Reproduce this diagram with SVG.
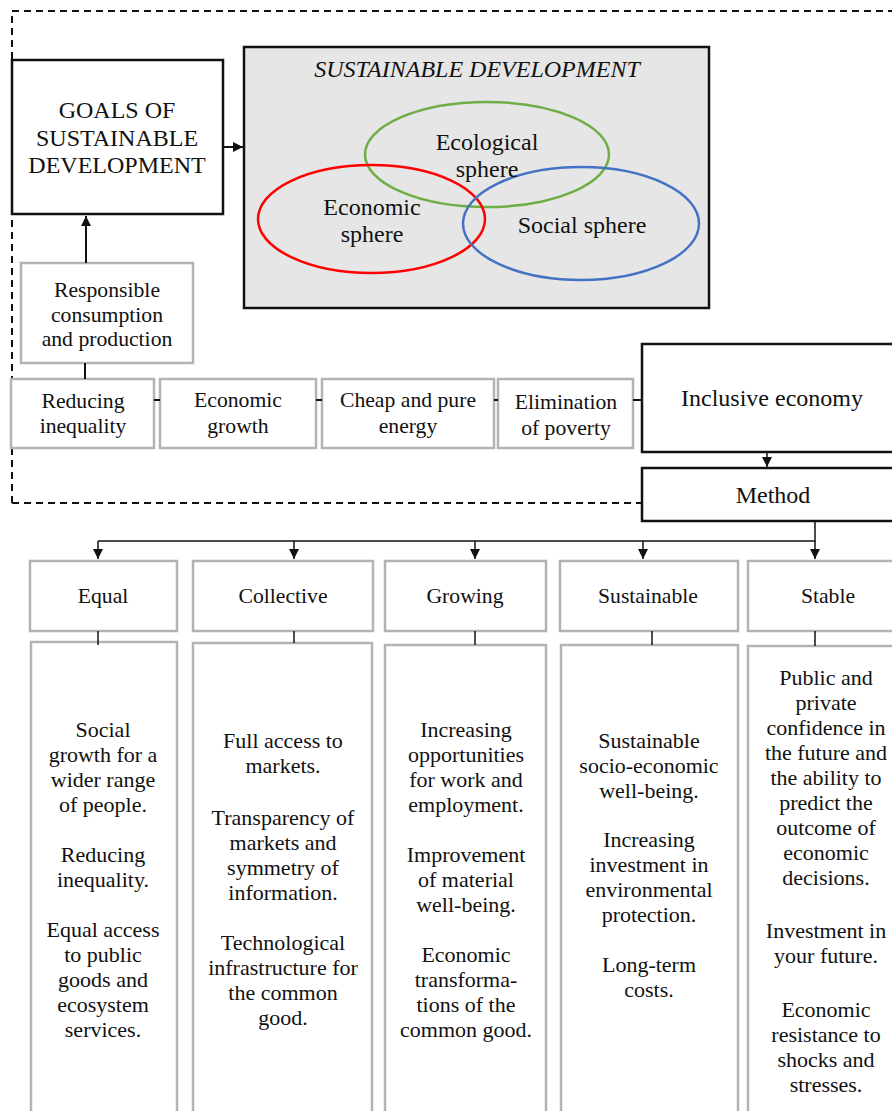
<svg xmlns="http://www.w3.org/2000/svg" width="892" height="1111" viewBox="0 0 892 1111">
<style>
text{font-family:'Liberation Serif','Times New Roman',serif;fill:#111;text-anchor:middle}
.t{font-size:22px}
.s{font-size:21.7px}
.L{font-size:24px}
.b{fill:#fff;stroke:#111;stroke-width:2.5}
.g{fill:#fff;stroke:#b3b3b3;stroke-width:2.5}
.l{stroke:#111;stroke-width:1.5;fill:none}
.lb{stroke:#111;stroke-width:2;fill:none}
</style>
<defs>
<marker id="ah" viewBox="0 0 10 10" refX="10" refY="5" markerWidth="10" markerHeight="10" markerUnits="userSpaceOnUse" orient="auto">
<path d="M0,0 L10,5 L0,10 z" fill="#111"/>
</marker>
</defs>
<g id="frame">
<path d="M12,503 L12,11 L892,11" fill="none" stroke="#111" stroke-width="2" stroke-dasharray="7,5"/>
<path d="M12,503 L641,503" fill="none" stroke="#111" stroke-width="2" stroke-dasharray="7,5"/>
</g>
<g id="goals">
<rect class="b" x="12" y="60" width="211" height="154"/>
<text class="L" x="117" y="118">GOALS OF</text>
<text class="L" x="117" y="146">SUSTAINABLE</text>
<text class="L" x="117" y="173">DEVELOPMENT</text>
</g>
<g id="sd">
<rect x="244" y="47" width="465" height="261" fill="#e6e6e6" stroke="#111" stroke-width="2.5"/>
<text class="L" x="477" y="77" style="font-style:italic">SUSTAINABLE DEVELOPMENT</text>
<ellipse cx="487" cy="154.5" rx="122" ry="52.5" fill="none" stroke="#70ad47" stroke-width="2.5"/>
<ellipse cx="371.5" cy="219" rx="113.5" ry="54" fill="none" stroke="#ff0000" stroke-width="2.5"/>
<ellipse cx="581" cy="223.5" rx="118" ry="56.5" fill="none" stroke="#4472c4" stroke-width="2.5"/>
<text class="L" x="487" y="150">Ecological</text>
<text class="L" x="487" y="177">sphere</text>
<text class="L" x="372" y="215">Economic</text>
<text class="L" x="372" y="242">sphere</text>
<text class="L" x="582" y="233">Social sphere</text>
</g>
<g id="responsible">
<rect class="g" x="21" y="263" width="172" height="100"/>
<text class="s" x="107" y="297">Responsible</text>
<text class="s" x="107" y="322">consumption</text>
<text class="s" x="107" y="346">and production</text>
</g>
<g id="reducing">
<rect class="g" x="11" y="379" width="143" height="69"/>
<text class="s" x="83" y="408">Reducing</text>
<text class="s" x="83" y="433">inequality</text>
</g>
<g id="econgrowth">
<rect class="g" x="160" y="379" width="156" height="69"/>
<text class="s" x="238" y="407">Economic</text>
<text class="s" x="238" y="433">growth</text>
</g>
<g id="energy">
<rect class="g" x="322" y="379" width="172" height="69"/>
<text class="s" x="408" y="407">Cheap and pure</text>
<text class="s" x="408" y="433">energy</text>
</g>
<g id="poverty">
<rect class="g" x="498" y="379" width="135" height="69"/>
<text class="s" x="566" y="409">Elimination</text>
<text class="s" x="566" y="435">of poverty</text>
</g>
<g id="inclusive">
<rect class="b" x="642" y="344" width="260" height="108"/>
<text class="L" x="772" y="406">Inclusive economy</text>
</g>
<g id="method">
<rect class="b" x="642" y="468" width="260" height="53"/>
<text class="L" x="773" y="503">Method</text>
</g>
<g id="equal">
<rect class="g" x="30" y="561" width="147" height="70"/>
<text class="s" x="103" y="603">Equal</text>
<rect class="g" x="31" y="642" width="146" height="480"/>
<text class="t" x="103"><tspan x="103" y="737">Social</tspan><tspan x="103" y="762">growth for a</tspan><tspan x="103" y="787">wider range</tspan><tspan x="103" y="812">of people.</tspan><tspan x="103" y="862">Reducing</tspan><tspan x="103" y="887">inequality.</tspan><tspan x="103" y="937">Equal access</tspan><tspan x="103" y="962">to public</tspan><tspan x="103" y="987">goods and</tspan><tspan x="103" y="1012">ecosystem</tspan><tspan x="103" y="1037">services.</tspan></text>
</g>
<g id="collective">
<rect class="g" x="193" y="561" width="180" height="70"/>
<text class="s" x="283" y="603">Collective</text>
<rect class="g" x="193" y="643" width="179" height="480"/>
<text class="t" x="283"><tspan x="283" y="748">Full access to</tspan><tspan x="283" y="773">markets.</tspan><tspan x="283" y="825">Transparency of</tspan><tspan x="283" y="850">markets and</tspan><tspan x="283" y="875">symmetry of</tspan><tspan x="283" y="900">information.</tspan><tspan x="283" y="950">Technological</tspan><tspan x="283" y="975">infrastructure for</tspan><tspan x="283" y="1000">the common</tspan><tspan x="283" y="1025">good.</tspan></text>
</g>
<g id="growing">
<rect class="g" x="385" y="561" width="161" height="70"/>
<text class="s" x="465" y="603">Growing</text>
<rect class="g" x="385" y="645" width="161" height="480"/>
<text class="t" x="466"><tspan x="466" y="737">Increasing</tspan><tspan x="466" y="762">opportunities</tspan><tspan x="466" y="787">for work and</tspan><tspan x="466" y="812">employment.</tspan><tspan x="466" y="862">Improvement</tspan><tspan x="466" y="887">of material</tspan><tspan x="466" y="912">well-being.</tspan><tspan x="466" y="962">Economic</tspan><tspan x="466" y="987">transforma-</tspan><tspan x="466" y="1012">tions of the</tspan><tspan x="466" y="1037">common good.</tspan></text>
</g>
<g id="sustainable">
<rect class="g" x="560" y="561" width="178" height="70"/>
<text class="s" x="648" y="603">Sustainable</text>
<rect class="g" x="561" y="645" width="177" height="480"/>
<text class="t" x="649"><tspan x="649" y="748">Sustainable</tspan><tspan x="649" y="773">socio-economic</tspan><tspan x="649" y="798">well-being.</tspan><tspan x="649" y="847">Increasing</tspan><tspan x="649" y="872">investment in</tspan><tspan x="649" y="897">environmental</tspan><tspan x="649" y="922">protection.</tspan><tspan x="649" y="972">Long-term</tspan><tspan x="649" y="997">costs.</tspan></text>
</g>
<g id="stable">
<rect class="g" x="748" y="561" width="160" height="70"/>
<text class="s" x="828" y="603">Stable</text>
<rect class="g" x="748" y="646" width="160" height="480"/>
<text class="t" x="826"><tspan x="826" y="685">Public and</tspan><tspan x="826" y="710">private</tspan><tspan x="826" y="735">confidence in</tspan><tspan x="826" y="760">the future and</tspan><tspan x="826" y="785">the ability to</tspan><tspan x="826" y="810">predict the</tspan><tspan x="826" y="835">outcome of</tspan><tspan x="826" y="860">economic</tspan><tspan x="826" y="885">decisions.</tspan><tspan x="826" y="938">Investment in</tspan><tspan x="826" y="963">your future.</tspan><tspan x="826" y="1017">Economic</tspan><tspan x="826" y="1042">resistance to</tspan><tspan x="826" y="1067">shocks and</tspan><tspan x="826" y="1092">stresses.</tspan></text>
</g>
<g id="connectors">
<line class="lb" x1="223" y1="147" x2="243" y2="147" marker-end="url(#ah)"/>
<line class="lb" x1="86" y1="263" x2="86" y2="216" marker-end="url(#ah)"/>
<line class="lb" x1="85" y1="363" x2="85" y2="379"/>
<line class="lb" x1="154" y1="400" x2="160" y2="400"/>
<line class="lb" x1="316" y1="400" x2="322" y2="400"/>
<line class="lb" x1="494" y1="400" x2="498" y2="400"/>
<line class="lb" x1="633" y1="400" x2="642" y2="400"/>
<line class="l" x1="767" y1="452" x2="767" y2="467" marker-end="url(#ah)"/>
<path class="l" d="M815,521 L815,541 L98,541"/>
<line class="l" x1="98" y1="541" x2="98" y2="559" marker-end="url(#ah)"/>
<line class="l" x1="294" y1="541" x2="294" y2="559" marker-end="url(#ah)"/>
<line class="l" x1="475" y1="541" x2="475" y2="559" marker-end="url(#ah)"/>
<line class="l" x1="643" y1="541" x2="643" y2="559" marker-end="url(#ah)"/>
<line class="l" x1="815" y1="541" x2="815" y2="559" marker-end="url(#ah)"/>
<line class="l" x1="98" y1="631" x2="98" y2="645"/>
<line class="l" x1="294" y1="631" x2="294" y2="643"/>
<line class="l" x1="475" y1="631" x2="475" y2="645"/>
<line class="l" x1="652" y1="631" x2="652" y2="645"/>
<line class="l" x1="815" y1="631" x2="815" y2="646"/>
</g>
</svg>
